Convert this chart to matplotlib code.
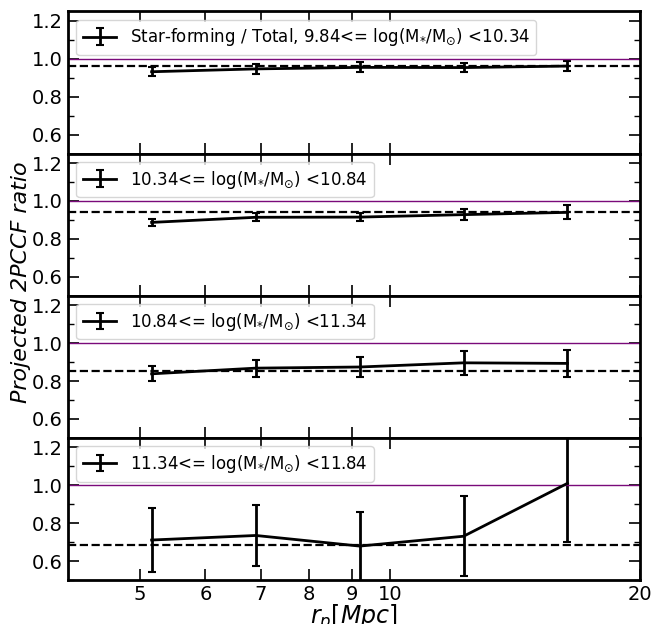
import matplotlib
matplotlib.use('Agg')
import matplotlib.pyplot as plt
from matplotlib.ticker import FixedLocator, NullFormatter, MultipleLocator

# projected separation bins [Mpc]
rp = [5.17, 6.90, 9.20, 12.27, 16.36]

labels = [
    r'Star-forming / Total, 9.84<= log(M$_{*}$/M$_{\odot}$) <10.34',
    r'10.34<= log(M$_{*}$/M$_{\odot}$) <10.84',
    r'10.84<= log(M$_{*}$/M$_{\odot}$) <11.34',
    r'11.34<= log(M$_{*}$/M$_{\odot}$) <11.84',
]

ratio_1 = [0.932, 0.947, 0.955, 0.954, 0.962]
err_1 = [0.024, 0.025, 0.026, 0.025, 0.028]
ratio_2 = [0.887, 0.914, 0.915, 0.928, 0.940]
err_2 = [0.020, 0.020, 0.022, 0.028, 0.037]
ratio_3 = [0.838, 0.868, 0.874, 0.896, 0.893]
err_3 = [0.040, 0.045, 0.052, 0.062, 0.070]
ratio_4 = [0.711, 0.735, 0.679, 0.731, 1.010]
err_4 = [0.170, 0.160, 0.182, 0.210, 0.312]

mean_level = [0.962, 0.944, 0.855, 0.683]

ratios = [ratio_1, ratio_2, ratio_3, ratio_4]
errors = [err_1, err_2, err_3, err_4]

fig, axes = plt.subplots(4, 1, figsize=(6.53, 6.24), dpi=100, sharex=True)
fig.subplots_adjust(left=0.104, right=0.980, bottom=0.0705, top=0.9816, hspace=0)

for ax, y, e, m, lab in zip(axes, ratios, errors, mean_level, labels):
    ax.errorbar(rp, y, yerr=e, color='black', lw=2, elinewidth=2, capsize=3,
                capthick=1.5, label=lab)
    ax.axhline(1.0, color='#7a0a7a', lw=1.0)
    ax.axhline(m, color='black', lw=1.6, ls='--')
    ax.set_xscale('log')
    ax.set_xlim(4.1, 20)
    ax.set_ylim(0.5, 1.25)
    ax.yaxis.set_major_locator(FixedLocator([0.6, 0.8, 1.0, 1.2]))
    ax.yaxis.set_minor_locator(MultipleLocator(0.1))
    ax.xaxis.set_major_locator(FixedLocator([5, 6, 7, 8, 9, 10, 20]))
    ax.xaxis.set_minor_locator(FixedLocator([]))
    ax.xaxis.set_minor_formatter(NullFormatter())
    ax.set_xticklabels(['5', '6', '7', '8', '9', '10', '20'])
    ax.tick_params(which='major', direction='in', top=True, right=True,
                   length=8, width=1.2, labelsize=14)
    ax.tick_params(which='minor', direction='in', top=True, right=True,
                   length=4, width=1.0)
    for sp in ax.spines.values():
        sp.set_linewidth(2)
    ax.legend(loc='upper left', fontsize=12, handlelength=2.0)

axes[-1].set_xlabel(r'$r_p[Mpc]$', fontsize=17, labelpad=-1)
fig.text(0.032, 0.548, 'Projected 2PCCF ratio', rotation=90, fontsize=16,
         style='italic', ha='center', va='center')

plt.savefig('out.png', dpi=100)
